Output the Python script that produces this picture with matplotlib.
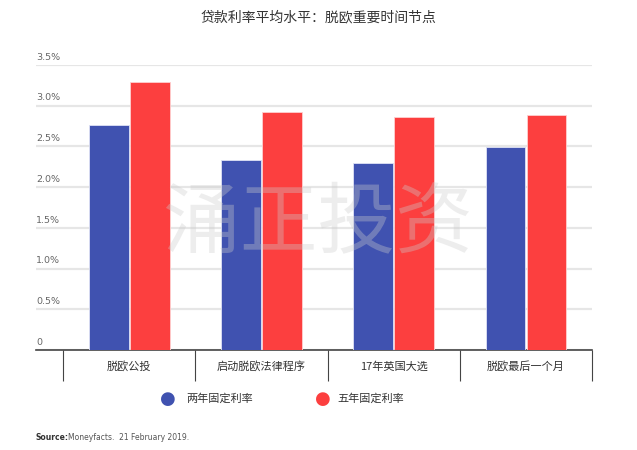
import matplotlib.pyplot as plt
import matplotlib.transforms as mtransforms
import numpy as np

plt.rcParams['font.family'] = ['Noto Sans CJK SC', 'DejaVu Sans']

categories = ['脱欧公投', '启动脱欧法律程序', '17年英国大选', '脱欧最后一个月']
two_year = [2.76, 2.33, 2.30, 2.49]
five_year = [3.29, 2.92, 2.86, 2.89]
y_ticks = [0, 0.5, 1.0, 1.5, 2.0, 2.5, 3.0, 3.5]
y_labels = ['0', '0.5%', '1.0%', '1.5%', '2.0%', '2.5%', '3.0%', '3.5%']

blue = '#4052B0'
red = '#FC3F3F'

fig = plt.figure(figsize=(6.37, 4.5), dpi=100)
ax = fig.add_axes([36 / 637, 100 / 450, 556 / 637, 285 / 450])

x = np.arange(len(categories))
w = 0.3
ax.bar(x - 0.155, two_year, w, color=blue, edgecolor='#dfe2f5', linewidth=0.6, zorder=3)
ax.bar(x + 0.155, five_year, w, color=red, edgecolor='#ffd0d0', linewidth=0.6, zorder=3)

ax.set_xlim(-0.705, 3.5)
ax.set_ylim(0, 3.5)

# grid lines and y labels sitting above the lines
ax.set_yticks(y_ticks)
ax.yaxis.grid(True, color='#e6e6e6', linewidth=1.6, zorder=0)
ax.tick_params(axis='y', length=0, labelleft=False)
trans = mtransforms.blended_transform_factory(ax.transAxes, ax.transData)
for v, lab in zip(y_ticks, y_labels):
    ax.text(0.0, v + 0.04, lab, transform=trans, ha='left', va='bottom',
            fontsize=6.8, color='#666666', family='DejaVu Sans')

# category labels centred, separators as minor ticks
ax.set_xticks(x)
ax.set_xticklabels(categories, fontsize=8, color='#333333')
ax.tick_params(axis='x', which='major', length=0, pad=8)
ax.set_xticks(np.arange(-0.5, 4.0, 1.0), minor=True)
ax.tick_params(axis='x', which='minor', length=22, width=0.8, color='#444444')

for s in ['top', 'right', 'left']:
    ax.spines[s].set_visible(False)
ax.spines['bottom'].set_color('#444444')
ax.spines['bottom'].set_linewidth(1.2)

fig.text(0.5, 1 - 17 / 450, '贷款利率平均水平：脱欧重要时间节点', ha='center', va='center',
         fontsize=10, color='#333333')

# legend
fig.text(168 / 637, 1 - 399 / 450, '●', ha='center', va='center', fontsize=13, color=blue,
         family='DejaVu Sans')
fig.text(186 / 637, 1 - 399 / 450, '两年固定利率', ha='left', va='center', fontsize=8, color='#333333')
fig.text(323 / 637, 1 - 399 / 450, '●', ha='center', va='center', fontsize=13, color=red,
         family='DejaVu Sans')
fig.text(337 / 637, 1 - 399 / 450, '五年固定利率', ha='left', va='center', fontsize=8, color='#333333')

# source
fig.text(36 / 637, 1 - 438 / 450, 'Source:', ha='left', va='center', fontsize=5.5,
         color='#333333', weight='bold', family='DejaVu Sans')
fig.text(68 / 637, 1 - 438 / 450, 'Moneyfacts.  21 February 2019.', ha='left', va='center',
         fontsize=5.5, color='#555555', family='DejaVu Sans')

# watermark
fig.text(318 / 637, 1 - 225 / 450, '涌正投资', ha='center', va='center', fontsize=56,
         color='#cccccc', alpha=0.35, weight='light', zorder=10)

fig.savefig('out.png', dpi=100)
